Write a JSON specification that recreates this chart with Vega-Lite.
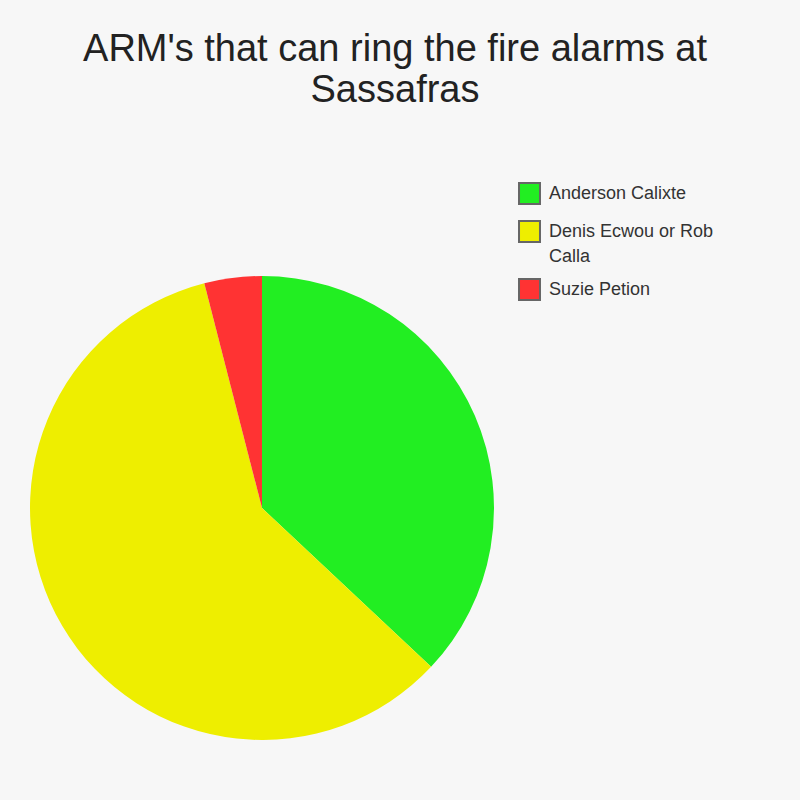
{
  "$schema": "https://vega.github.io/schema/vega-lite/v6.json",
  "autosize": {"type": "none"},
  "width": 464,
  "height": 464,
  "padding": {"left": 30, "top": 276, "right": 306, "bottom": 60},
  "background": "#f7f7f7",
  "config": {
    "view": {"stroke": null},
    "font": "Liberation Sans",
    "style": {"guide-label": {"lineHeight": 25}}
  },
  "title": {
    "text": ["ARM's that can ring the fire alarms at", "Sassafras"],
    "fontSize": 38,
    "fontWeight": "normal",
    "font": "Liberation Sans",
    "color": "#222222",
    "anchor": "middle",
    "lineHeight": 41,
    "dx": 133,
    "offset": 72
  },
  "data": {
    "values": [
      {"Name": "Anderson Calixte", "Share": 37, "Order": 1},
      {"Name": "Denis Ecwou or Rob Calla", "Share": 59, "Order": 2},
      {"Name": "Suzie Petion", "Share": 4, "Order": 3}
    ]
  },
  "mark": {"type": "arc", "outerRadius": 232},
  "encoding": {
    "theta": {"field": "Share", "type": "quantitative", "stack": true},
    "order": {"field": "Order", "type": "quantitative"},
    "color": {
      "field": "Name",
      "type": "nominal",
      "sort": ["Anderson Calixte", "Denis Ecwou or Rob Calla", "Suzie Petion"],
      "scale": {
        "domain": ["Anderson Calixte", "Denis Ecwou or Rob Calla", "Suzie Petion"],
        "range": ["#22ee22", "#eeee00", "#ff3333"]
      },
      "legend": {
        "title": null,
        "orient": "none",
        "legendX": 488,
        "legendY": -94,
        "symbolType": "square",
        "symbolSize": 440,
        "symbolStrokeColor": "#666666",
        "symbolStrokeWidth": 2,
        "symbolOpacity": 1,
        "labelFont": "Liberation Sans",
        "labelFontSize": 18,
        "labelColor": "#333333",
        "labelOffset": 8,
        "labelLimit": 300,
        "rowPadding": 9,
        "labelExpr": "datum.label == 'Denis Ecwou or Rob Calla' ? ['Denis Ecwou or Rob', 'Calla'] : datum.label"
      }
    }
  }
}
